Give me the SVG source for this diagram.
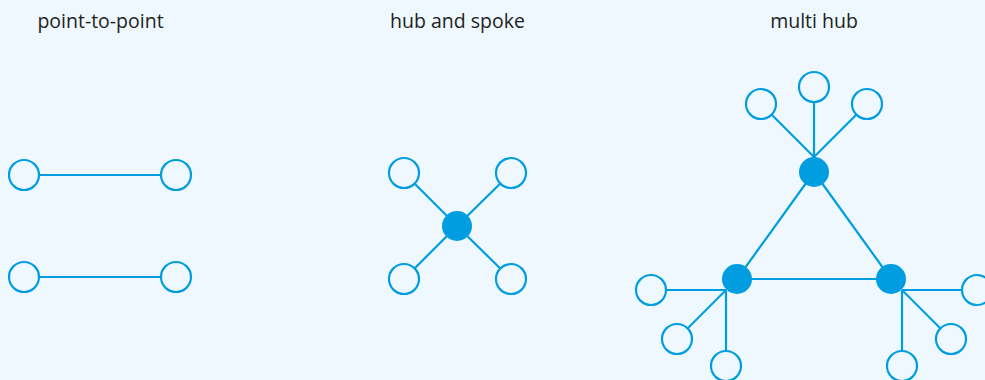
<svg xmlns="http://www.w3.org/2000/svg" width="985" height="380" viewBox="0 0 985 380">
<style>
.bg{fill:#eff8fe}
.lbl{font-family:"Open Sans","Noto Sans",sans-serif;font-size:19.5px;fill:#222;text-anchor:middle}
.edge{stroke:#009ee0;stroke-width:2.2;fill:none}
.leaf{fill:#eff8fe;stroke:#009ee0;stroke-width:2.2}
.hub{fill:#009ee0}
</style>
<rect class="bg" x="0" y="0" width="985" height="380"/>
<g id="titles">
<text class="lbl" x="100.5" y="28">point-to-point</text>
<text class="lbl" x="457.5" y="28">hub and spoke</text>
<text class="lbl" x="814" y="28">multi hub</text>
</g>
<g id="connectors">
<line class="edge" x1="24" y1="175" x2="176" y2="175"/>
<line class="edge" x1="24" y1="277" x2="176" y2="277"/>
<line class="edge" x1="404" y1="173" x2="457" y2="226"/>
<line class="edge" x1="511" y1="173" x2="457" y2="226"/>
<line class="edge" x1="404" y1="279" x2="457" y2="226"/>
<line class="edge" x1="511" y1="279" x2="457" y2="226"/>
<line class="edge" x1="814" y1="172" x2="737" y2="279"/>
<line class="edge" x1="814" y1="172" x2="891" y2="279"/>
<line class="edge" x1="737" y1="279" x2="891" y2="279"/>
<line class="edge" x1="761" y1="104" x2="814" y2="157"/>
<line class="edge" x1="814" y1="87" x2="814" y2="172"/>
<line class="edge" x1="867" y1="104" x2="814" y2="157"/>
<line class="edge" x1="651" y1="290" x2="726" y2="290"/>
<line class="edge" x1="677" y1="339" x2="726" y2="290"/>
<line class="edge" x1="726" y1="366" x2="726" y2="290"/>
<line class="edge" x1="977" y1="290" x2="902" y2="290"/>
<line class="edge" x1="951" y1="339" x2="902" y2="290"/>
<line class="edge" x1="902" y1="366" x2="902" y2="290"/>
</g>
<g id="p2p-a1"><circle class="leaf" cx="24" cy="175" r="15"/></g>
<g id="p2p-a2"><circle class="leaf" cx="176" cy="175" r="15"/></g>
<g id="p2p-b1"><circle class="leaf" cx="24" cy="277" r="15"/></g>
<g id="p2p-b2"><circle class="leaf" cx="176" cy="277" r="15"/></g>
<g id="hs-hub"><circle class="hub" cx="457" cy="226" r="15"/></g>
<g id="hs-tl"><circle class="leaf" cx="404" cy="173" r="15"/></g>
<g id="hs-tr"><circle class="leaf" cx="511" cy="173" r="15"/></g>
<g id="hs-bl"><circle class="leaf" cx="404" cy="279" r="15"/></g>
<g id="hs-br"><circle class="leaf" cx="511" cy="279" r="15"/></g>
<g id="mh-top"><circle class="hub" cx="814" cy="172" r="15"/></g>
<g id="mh-left"><circle class="hub" cx="737" cy="279" r="15"/></g>
<g id="mh-right"><circle class="hub" cx="891" cy="279" r="15"/></g>
<g id="mh-t1"><circle class="leaf" cx="761" cy="104" r="15"/></g>
<g id="mh-t2"><circle class="leaf" cx="814" cy="87" r="15"/></g>
<g id="mh-t3"><circle class="leaf" cx="867" cy="104" r="15"/></g>
<g id="mh-l1"><circle class="leaf" cx="651" cy="290" r="15"/></g>
<g id="mh-l2"><circle class="leaf" cx="677" cy="339" r="15"/></g>
<g id="mh-l3"><circle class="leaf" cx="726" cy="366" r="15"/></g>
<g id="mh-r1"><circle class="leaf" cx="977" cy="290" r="15"/></g>
<g id="mh-r2"><circle class="leaf" cx="951" cy="339" r="15"/></g>
<g id="mh-r3"><circle class="leaf" cx="902" cy="366" r="15"/></g>
</svg>
